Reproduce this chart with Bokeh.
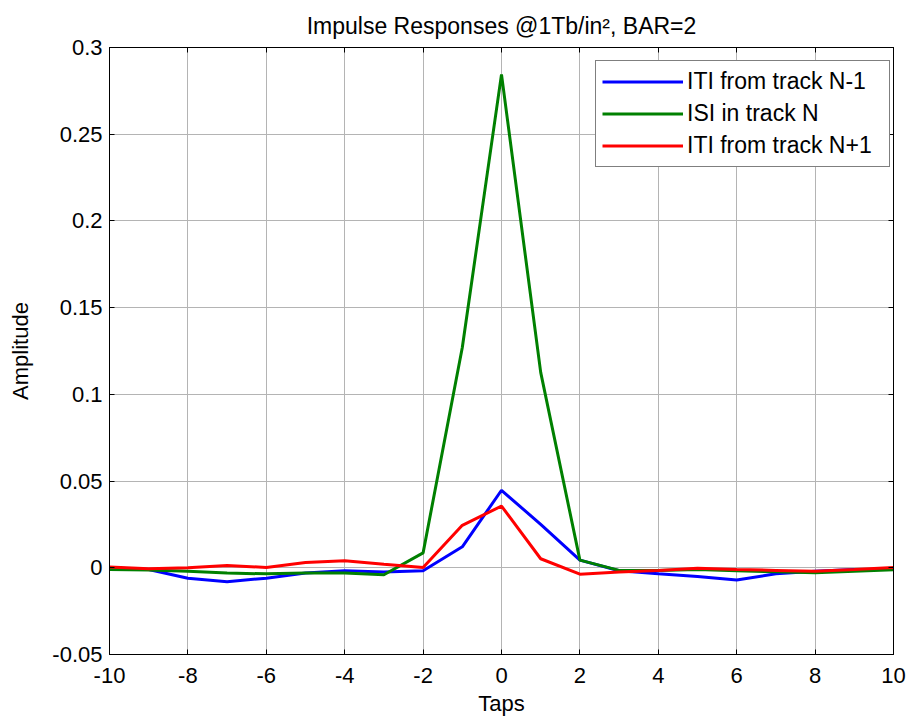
from bokeh.plotting import figure
from bokeh.models import FixedTicker, LinearAxis, Legend, LegendItem, Range1d
from bokeh.embed import file_html
from bokeh.resources import INLINE

taps = [-10, -9, -8, -7, -6, -5, -4, -3, -2, -1, 0, 1, 2, 3, 4, 5, 6, 7, 8, 9, 10]
iti_prev = [0.0, -0.001, -0.006, -0.008, -0.006, -0.003, -0.0017, -0.0025, -0.0017, 0.0121, 0.0447,
            0.025, 0.0044, -0.0017, -0.0035, -0.005, -0.007, -0.0035, -0.002, -0.001, -0.001]
isi = [-0.001, -0.0013, -0.002, -0.003, -0.0035, -0.003, -0.003, -0.004, 0.0086, 0.127, 0.2845,
       0.1127, 0.0044, -0.0015, -0.0015, -0.001, -0.0017, -0.0023, -0.0029, -0.002, -0.0012]
iti_next = [0.0005, -0.0006, 0.0, 0.0013, 0.0002, 0.003, 0.004, 0.002, 0.0002, 0.0245, 0.0356,
            0.0052, -0.0037, -0.0025, -0.0015, -0.0002, -0.001, -0.0015, -0.002, -0.001, 0.0002]

series_names = ["ITI from track N-1", "ISI in track N", "ITI from track N+1"]
series_colors = ["#0000ff", "#008000", "#ff0000"]

x_ticks = [-10, -8, -6, -4, -2, 0, 2, 4, 6, 8, 10]
y_ticks = [-0.05, 0, 0.05, 0.1, 0.15, 0.2, 0.25, 0.3]
y_tick_labels = ["-0.05", "0", "0.05", "0.1", "0.15", "0.2", "0.25", "0.3"]
x_tick_labels = ["-10", "-8", "-6", "-4", "-2", "0", "2", "4", "6", "8", "10"]

FONT = "Liberation Sans"

p = figure(width=915, height=719, output_backend="svg", toolbar_location=None,
           x_range=Range1d(-10, 10), y_range=Range1d(-0.05, 0.3),
           title="Impulse Responses @1Tb/in\u00b2, BAR=2",
           x_axis_label="Taps", y_axis_label="Amplitude")
p.min_border_left = 109
p.min_border_right = 22
p.min_border_top = 47
p.min_border_bottom = 65
p.background_fill_color = "white"
p.border_fill_color = "white"
p.outline_line_color = "black"
p.outline_line_width = 1

p.title.align = "center"
p.title.text_font = FONT
p.title.text_font_size = "23px"
p.title.text_font_style = "normal"
p.title.text_color = "black"
p.title.standoff = 18

renderers = []
for vals, color in zip([iti_prev, isi, iti_next], series_colors):
    r = p.line(taps, vals, line_color=color, line_width=3)
    renderers.append(r)

for ax in [p.xaxis[0], p.yaxis[0]]:
    ax.major_label_text_font = FONT
    ax.major_label_text_font_size = "22px"
    ax.major_label_text_color = "black"
    ax.axis_label_text_font = FONT
    ax.axis_label_text_font_size = "22px"
    ax.axis_label_text_font_style = "normal"
    ax.axis_label_text_color = "black"
    ax.major_tick_in = 5
    ax.major_tick_out = 0
    ax.minor_tick_in = 0
    ax.minor_tick_out = 0
    ax.axis_line_color = "black"
    ax.major_tick_line_color = "black"

p.xaxis[0].ticker = FixedTicker(ticks=x_ticks)
p.xaxis[0].major_label_overrides = {t: l for t, l in zip(x_ticks, x_tick_labels)}
p.xaxis[0].major_label_standoff = 13
p.xaxis[0].axis_label_standoff = 5
p.yaxis[0].ticker = FixedTicker(ticks=y_ticks)
p.yaxis[0].major_label_overrides = {t: l for t, l in zip(y_ticks, y_tick_labels)}
p.yaxis[0].major_label_standoff = 7
p.yaxis[0].axis_label_standoff = 16

for loc, tick_list in [("right", y_ticks), ("above", x_ticks)]:
    ax = LinearAxis(ticker=FixedTicker(ticks=tick_list), major_label_text_font_size="0px",
                    major_tick_in=5, major_tick_out=0, minor_tick_in=0, minor_tick_out=0,
                    axis_line_color="black", major_tick_line_color="black",
                    major_label_standoff=0)
    p.add_layout(ax, loc)

p.xgrid.ticker = FixedTicker(ticks=x_ticks)
p.ygrid.ticker = FixedTicker(ticks=y_ticks)
for g in [p.xgrid[0], p.ygrid[0]]:
    g.grid_line_color = "#b4b4b4"
    g.grid_line_width = 1

legend = Legend(items=[LegendItem(label=n, renderers=[r]) for n, r in zip(series_names, renderers)],
                location=(486, 487))
legend.label_text_font = FONT
legend.label_text_font_size = "23px"
legend.label_text_color = "black"
legend.glyph_width = 81
legend.glyph_height = 29
legend.label_height = 29
legend.label_width = 196
legend.label_standoff = 4
legend.spacing = 3
legend.padding = 6
legend.margin = 0
legend.border_line_color = "black"
legend.border_line_width = 1
legend.background_fill_alpha = 1
p.add_layout(legend, "center")

open("out.html", "w").write(file_html(p, INLINE))
